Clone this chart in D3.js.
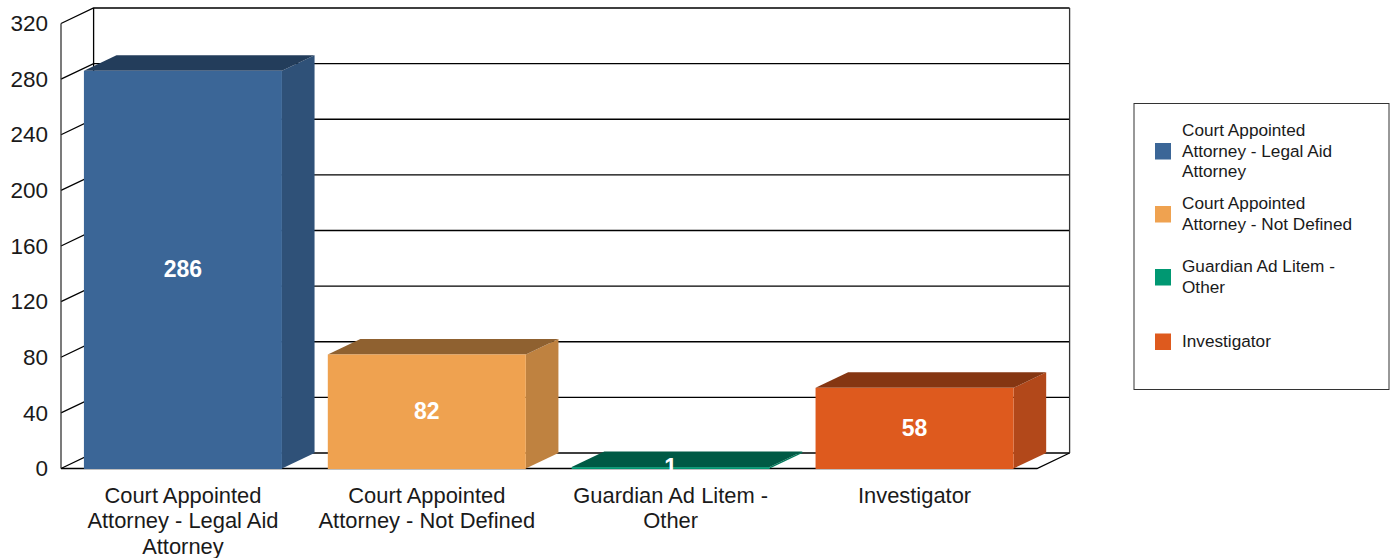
<!DOCTYPE html>
<html>
<head>
<meta charset="utf-8">
<script src="https://cdn.jsdelivr.net/npm/d3@7"></script>
<style>
  html, body { margin: 0; padding: 0; background: #fff; }
  svg { display: block; }
  text { font-family: "Liberation Sans", Arial, sans-serif; fill: #1a1a1a; }
</style>
</head>
<body>
<svg id="chart"></svg>
<script>
// Data
const categories = [
    "Court Appointed Attorney - Legal Aid Attorney",
    "Court Appointed Attorney - Not Defined",
    "Guardian Ad Litem - Other",
    "Investigator"
];
const values = [286, 82, 1, 58];
const yTicks = [0, 40, 80, 120, 160, 200, 240, 280, 320];
const axisLabelLines = [
    ["Court Appointed", "Attorney - Legal Aid", "Attorney"],
    ["Court Appointed", "Attorney - Not Defined"],
    ["Guardian Ad Litem -", "Other"],
    ["Investigator"]
];
const legendLines = axisLabelLines;
const frontColors = ["#3b6697", "#efa250", "#009872", "#de5a1e"];
const sideColors = ["#2f5178", "#bf8240", "#007a5b", "#b2481a"];
const topColors = ["#233d5b", "#8f6130", "#005a45", "#853612"];

const width = 1394, height = 558;
const plot = { left: 61, right: 1037, top: 23.5, bottom: 468.5 };
const depthX = 32.6, depthY = 15.5; // 3D offset of the back wall

const svg = d3.select("#chart").attr("width", width).attr("height", height);

const x = d3.scaleBand()
    .domain(categories)
    .range([plot.left, plot.right - 0.5])
    .paddingInner(0.188)
    .paddingOuter(0.094);

const y = d3.scaleLinear()
    .domain([0, 320])
    .range([plot.bottom, plot.top]);

const backX = plot.left + depthX;
const backRight = plot.right + depthX;

// Back wall and grid
const grid = svg.append("g").attr("fill", "none").attr("stroke", "#000").attr("stroke-width", 1.3);

grid.selectAll(".grid")
    .data(yTicks)
    .enter()
    .append("path")
    .attr("class", "grid")
    .attr("d", d => `M${plot.left},${y(d)}L${backX},${y(d) - depthY}L${backRight},${y(d) - depthY}`);

// Left wall, back wall edges and floor front edge
grid.append("path").attr("d", `M${plot.left},${y(0)}V${y(320)}`).attr("stroke", "#333");
grid.append("path").attr("d", `M${backX},${y(0) - depthY}V${y(320) - depthY}`);
grid.append("path").attr("d", `M${backRight},${y(0) - depthY}V${y(320) - depthY}`).attr("stroke", "#333");
grid.append("path").attr("d", `M${plot.left},${y(0)}H${plot.right}L${backRight},${y(0) - depthY}`);

// Bars: front, side and top faces
const bars = svg.selectAll(".bar")
    .data(categories)
    .enter()
    .append("g")
    .attr("class", "bar");

bars.append("path")
    .attr("fill", (d, i) => sideColors[i])
    .attr("d", (d, i) => {
        const r = x(d) + x.bandwidth();
        return `M${r},${y(0)}V${y(values[i])}L${r + depthX},${y(values[i]) - depthY}V${y(0) - depthY}Z`;
    });

bars.append("path")
    .attr("fill", (d, i) => topColors[i])
    .attr("d", (d, i) => {
        const t = y(values[i]);
        return `M${x(d)},${t}L${x(d) + depthX},${t - depthY}H${x(d) + x.bandwidth() + depthX}L${x(d) + x.bandwidth()},${t}Z`;
    });

bars.append("rect")
    .attr("fill", (d, i) => frontColors[i])
    .attr("x", d => x(d))
    .attr("y", (d, i) => y(values[i]))
    .attr("width", x.bandwidth())
    .attr("height", (d, i) => y(0) - y(values[i]) + 0.5);

// Value labels
bars.append("text")
    .attr("x", d => x(d) + x.bandwidth() / 2)
    .attr("y", (d, i) => (y(values[i]) + y(0)) / 2 + 7.5)
    .attr("text-anchor", "middle")
    .style("font-size", "23px")
    .style("font-weight", "bold")
    .style("fill", "#fff")
    .text((d, i) => values[i]);

// Y axis
const yAxis = svg.append("g")
    .attr("transform", `translate(${plot.left},0)`)
    .call(d3.axisLeft(y).tickValues(yTicks).tickSize(0).tickPadding(13));
yAxis.select(".domain").remove();
yAxis.selectAll("text").style("font-size", "22.5px").style("font-family", null).style("fill", "#1a1a1a");
yAxis.attr("font-family", null).attr("font-size", null);

// X axis labels, wrapped as in the original
const xLabels = svg.selectAll(".x-label")
    .data(categories)
    .enter()
    .append("text")
    .attr("class", "x-label")
    .attr("text-anchor", "middle")
    .style("font-size", "21.9px");

xLabels.selectAll("tspan")
    .data((d, i) => axisLabelLines[i].map(line => ({ line, cx: x(d) + x.bandwidth() / 2 })))
    .enter()
    .append("tspan")
    .attr("x", d => d.cx)
    .attr("y", (d, i) => 503 + i * 25.3)
    .text(d => d.line);

// Legend
svg.append("rect")
    .attr("x", 1134)
    .attr("y", 103.5)
    .attr("width", 255)
    .attr("height", 286)
    .attr("fill", "#fff")
    .attr("stroke", "#333")
    .attr("stroke-width", 1);

const legendCenters = [151, 214, 277, 341.5];

const legend = svg.selectAll(".legend-item")
    .data(categories)
    .enter()
    .append("g")
    .attr("class", "legend-item");

legend.append("rect")
    .attr("x", 1155)
    .attr("y", (d, i) => legendCenters[i] - 8)
    .attr("width", 16)
    .attr("height", 16.5)
    .attr("fill", (d, i) => frontColors[i]);

legend.append("text")
    .style("font-size", "17.2px")
    .selectAll("tspan")
    .data((d, i) => legendLines[i].map(line => ({ line, n: legendLines[i].length, c: legendCenters[i] })))
    .enter()
    .append("tspan")
    .attr("x", 1182)
    .attr("y", (d, i) => d.c + 5.5 + (i - (d.n - 1) / 2) * 20.6)
    .text(d => d.line);
</script>
</body>
</html>
